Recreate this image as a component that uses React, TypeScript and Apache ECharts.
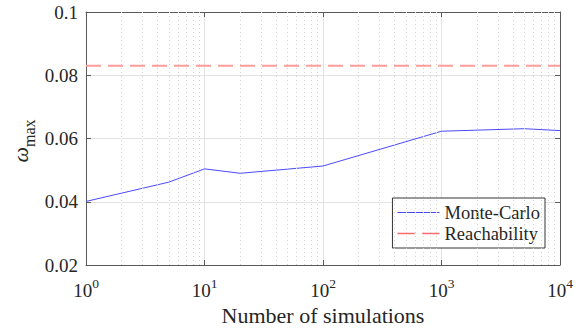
import React, { useEffect, useRef } from "react";
import * as echarts from "echarts";

const simCounts = [1, 5, 10, 20, 100, 1000, 5000, 10000];
const monteCarlo = [0.0401, 0.0462, 0.0504, 0.049, 0.0513, 0.0623, 0.0631, 0.0625];
const reachabilityValue = 0.083;
const xRange = [1, 10000];
const yTicks = [0.02, 0.04, 0.06, 0.08, 0.1];
const seriesNames = ["Monte-Carlo", "Reachability"];
const xTitle = "Number of simulations";

const FONT = "Liberation Serif";
const TXT = "#262626";
const AX = "#5a5a5a";
const BLUE = "#4a4aff";
const RED = "#ff9c9c";

export default function App() {
  const ref = useRef<HTMLDivElement>(null);
  useEffect(() => {
    if (!ref.current) return;
    const chart = echarts.init(ref.current, null, { renderer: "svg" });
    const minorVals: number[] = [];
    for (let d = xRange[0]; d < xRange[1]; d *= 10) {
      for (let k = 2; k <= 9; k++) minorVals.push(k * d);
    }
    const axisLineStyle = { show: true, lineStyle: { color: AX, width: 1 } };
    chart.setOption({
      animation: false,
      textStyle: { fontFamily: FONT, color: TXT },
      grid: { left: 86, right: 25, top: 12, bottom: 65, containLabel: false, outerBoundsMode: "none" },
      legend: {
        data: [
          { name: seriesNames[0], icon: "path://M0,0H42V1.2H0Z", itemStyle: { color: BLUE } },
          { name: seriesNames[1], icon: "path://M0,0H16V1.2H0Z M23,0H39V1.2H23Z", itemStyle: { color: "#ff6b6b" } },
        ],
        orient: "vertical",
        right: 40,
        top: 198,
        backgroundColor: "#fff",
        borderColor: "#333",
        borderWidth: 1,
        borderRadius: 0,
        padding: [5, 5, 5, 5],
        itemWidth: 42,
        itemHeight: 10,
        itemGap: 2,
        symbolKeepAspect: true,
        textStyle: { fontFamily: FONT, fontSize: 18.5, color: TXT },
      },
      xAxis: [
        {
          type: "log",
          logBase: 10,
          min: xRange[0],
          max: xRange[1],
          name: xTitle,
          nameLocation: "middle",
          nameGap: 38,
          nameTextStyle: { fontFamily: FONT, fontSize: 22, color: TXT },
          axisLine: axisLineStyle,
          axisTick: { show: true, inside: true, length: 5, lineStyle: { color: AX } },
          splitLine: { show: true, lineStyle: { color: "#e3e3e3", width: 1 } },
          axisLabel: {
            margin: 11,
            fontFamily: FONT,
            formatter: (v: number) => `{b|10}{s|${Math.round(Math.log10(v))}}`,
            rich: {
              b: { fontFamily: FONT, fontSize: 19, color: TXT, verticalAlign: "bottom", lineHeight: 24 },
              s: { fontFamily: FONT, fontSize: 13.5, color: TXT, verticalAlign: "top", lineHeight: 24 },
            },
          },
        },
        {
          type: "log",
          logBase: 10,
          position: "top",
          min: xRange[0],
          max: xRange[1],
          axisLine: axisLineStyle,
          axisTick: { show: true, inside: true, length: 5, lineStyle: { color: AX } },
          axisLabel: { show: false },
          splitLine: { show: false },
        },
      ],
      yAxis: [
        {
          type: "value",
          min: yTicks[0],
          max: yTicks[yTicks.length - 1],
          interval: 0.02,
          axisLine: axisLineStyle,
          axisTick: { show: true, inside: true, length: 5, lineStyle: { color: AX } },
          splitLine: { show: true, lineStyle: { color: "#e3e3e3", width: 1 } },
          axisLabel: { fontFamily: FONT, fontSize: 19, color: TXT, margin: 8 },
        },
        {
          type: "value",
          position: "right",
          min: yTicks[0],
          max: yTicks[yTicks.length - 1],
          interval: 0.02,
          axisLine: axisLineStyle,
          axisTick: { show: true, inside: true, length: 5, lineStyle: { color: AX } },
          axisLabel: { show: false },
          splitLine: { show: false },
        },
      ],
      graphic: [
        {
          type: "text",
          x: 23,
          y: 141,
          rotation: Math.PI / 2,
          style: {
            text: "{w|ω}{s|max}",
            align: "center",
            verticalAlign: "middle",
            rich: {
              w: { fontFamily: FONT, fontSize: 22, fontStyle: "italic", fill: TXT, verticalAlign: "top", lineHeight: 28 },
              s: { fontFamily: FONT, fontSize: 16, fill: TXT, verticalAlign: "bottom", lineHeight: 28 },
            },
          },
        },
      ],
      series: [
        {
          name: "minor",
          type: "line",
          data: [],
          silent: true,
          markLine: {
            silent: true,
            symbol: "none",
            label: { show: false },
            lineStyle: { color: "#d2d2d2", type: [1, 3], width: 1 },
            data: minorVals.map((v) => ({ xAxis: v })),
          },
        },
        {
          name: seriesNames[0],
          type: "line",
          data: simCounts.map((x, i) => [x, monteCarlo[i]]),
          symbol: "none",
          lineStyle: { color: BLUE, width: 1 },
          itemStyle: { color: BLUE },
        },
        {
          name: seriesNames[1],
          type: "line",
          data: [
            [xRange[0], reachabilityValue],
            [xRange[1], reachabilityValue],
          ],
          symbol: "none",
          lineStyle: { color: RED, width: 2, type: [15, 7] },
          itemStyle: { color: RED },
        },
      ],
    });
    return () => chart.dispose();
  }, []);
  return (
    <div
      ref={ref}
      style={{ position: "fixed", left: 0, top: 0, width: 585, height: 330, background: "#fff" }}
    />
  );
}
